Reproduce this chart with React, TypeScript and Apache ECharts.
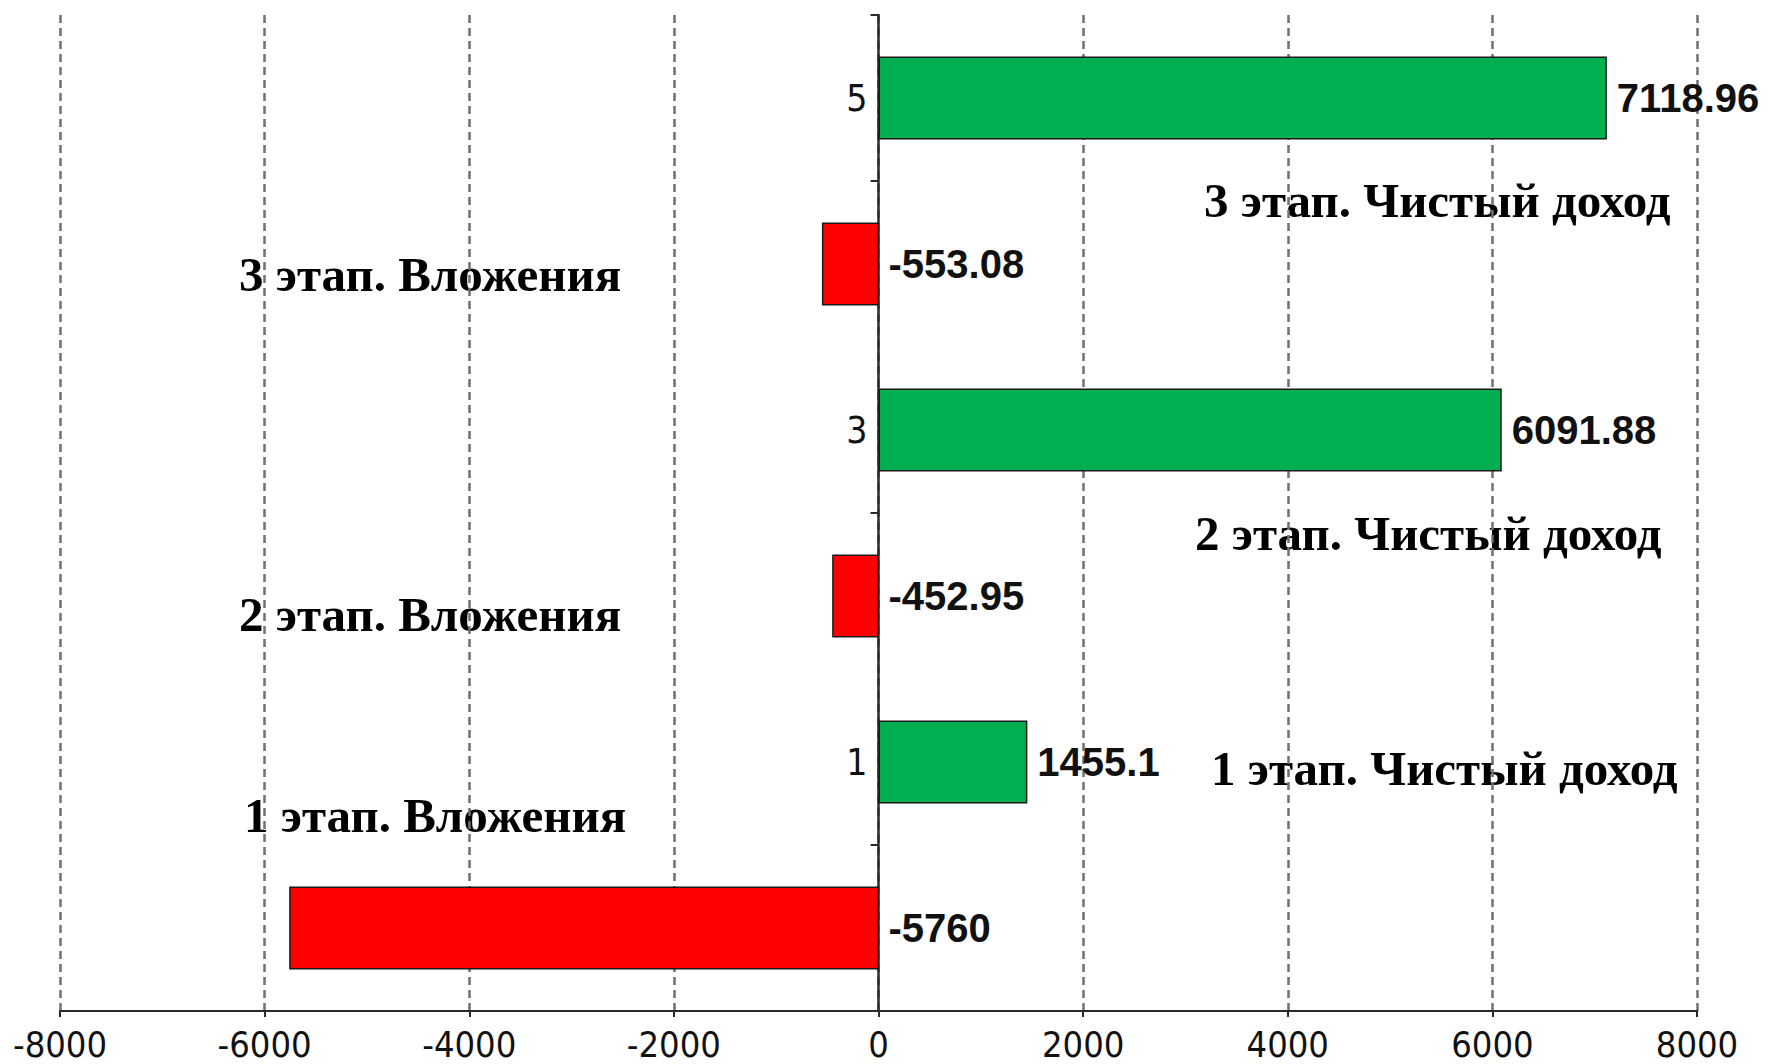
import React, { useEffect, useRef } from "react";
import * as echarts from "echarts";

const categories = ["0", "1", "2", "3", "4", "5"];
const values = [-5760, 1455.1, -452.95, 6091.88, -553.08, 7118.96];
const xMin = -8000;
const xMax = 8000;
const xInterval = 2000;

const annotationTexts = [
  "3 этап. Чистый доход",
  "3 этап. Вложения",
  "2 этап. Чистый доход",
  "2 этап. Вложения",
  "1 этап. Чистый доход",
  "1 этап. Вложения",
];
const annotationPos = [
  [1204, 200],
  [239, 274],
  [1195, 533],
  [239, 614],
  [1211, 768],
  [244, 815],
];

const GREEN = "#00B050";
const RED = "#FF0000";

const GRID_LEFT = 60;
const GRID_RIGHT = 76;
const WIDTH = 1773;

export default function App() {
  const ref = useRef<HTMLDivElement>(null);
  useEffect(() => {
    if (!ref.current) return;
    const chart = echarts.init(ref.current, null, { renderer: "svg" });
    const narrow = "'Liberation Sans Narrow', 'DejaVu Sans Condensed', 'Arial Narrow', sans-serif";
    const plotW = WIDTH - GRID_LEFT - GRID_RIGHT;
    const zeroOffset = -((0 - xMin) / (xMax - xMin)) * plotW;
    chart.setOption({
      animation: false,
      backgroundColor: "#ffffff",
      grid: { left: GRID_LEFT, right: GRID_RIGHT, top: 15, bottom: 53, containLabel: false },
      xAxis: {
        type: "value",
        min: xMin,
        max: xMax,
        interval: xInterval,
        axisLine: { show: true, lineStyle: { color: "#2a2a2a", width: 2 } },
        axisTick: { show: true, length: 6, lineStyle: { color: "#2a2a2a", width: 2 } },
        axisLabel: {
          color: "#111",
          fontFamily: narrow,
          fontSize: 36,
          lineHeight: 36,
          margin: 15,
          formatter: (v: number) => String(v),
        },
        splitLine: {
          show: true,
          lineStyle: { color: "#707070", width: 2.5, type: [8, 5] },
        },
      },
      yAxis: {
        type: "category",
        data: categories,
        offset: zeroOffset,
        axisLine: { show: true, onZero: false, lineStyle: { color: "#2a2a2a", width: 2.5 } },
        axisTick: { show: true, length: 8, lineStyle: { color: "#2a2a2a", width: 2 } },
        axisLabel: {
          color: "#111",
          fontFamily: narrow,
          fontSize: 37,
          margin: 11,
          interval: (i: number) => i % 2 === 1,
        },
        splitLine: { show: false },
      },
      series: [
        {
          type: "bar",
          barWidth: "50%",
          data: values.map((v) => ({
            value: v,
            itemStyle: { color: v < 0 ? RED : GREEN },
          })),
          itemStyle: { borderColor: "#1a1a1a", borderWidth: 1.5 },
          label: {
            show: true,
            position: "right",
            distance: 10,
            color: "#111",
            fontFamily: "'Liberation Sans', Arial, sans-serif",
            fontWeight: "bold",
            fontSize: 40,
            formatter: (p: any) => String(p.value),
          },
        },
      ],
      graphic: annotationTexts.map((t, i) => ({
        type: "text",
        x: annotationPos[i][0],
        y: annotationPos[i][1],
        style: {
          text: t,
          fill: "#000",
          font: "bold 49px 'Liberation Serif', 'Times New Roman', serif",
          textVerticalAlign: "middle",
          textAlign: "left",
        },
      })),
    });
    return () => chart.dispose();
  }, []);
  return (
    <div
      ref={ref}
      style={{ position: "fixed", left: 0, top: 0, width: 1773, height: 1064 }}
    />
  );
}
